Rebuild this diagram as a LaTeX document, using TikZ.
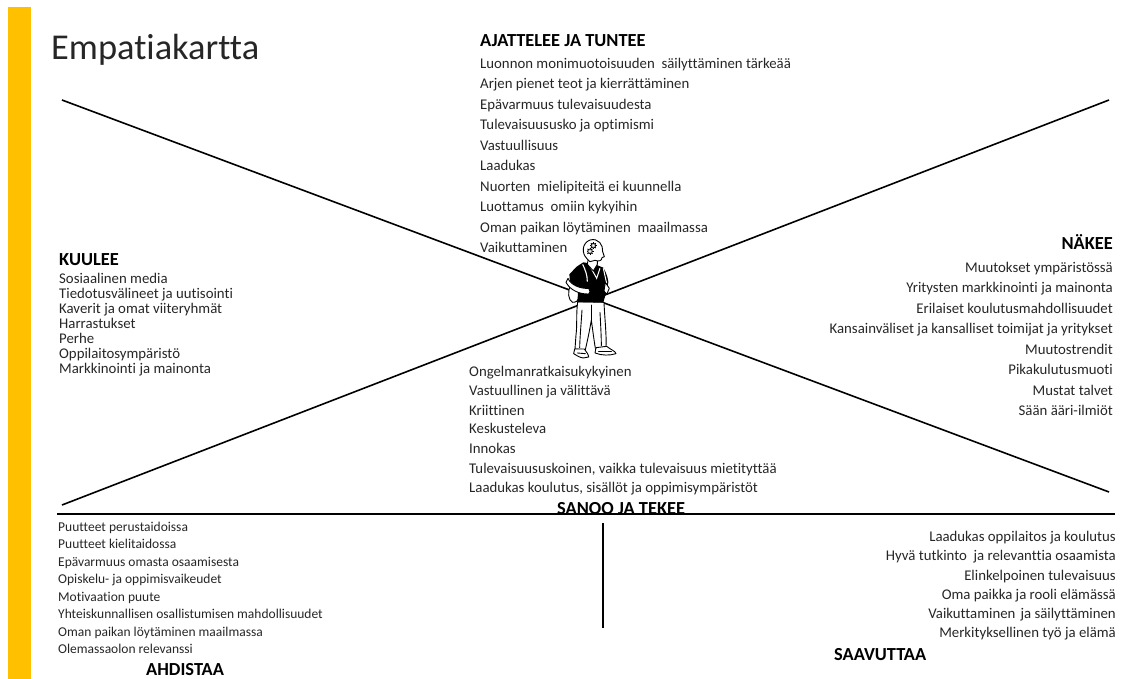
\documentclass[tikz,border=0pt]{standalone}
\usepackage{fontspec}
\setmainfont{Carlito}[Ligatures=NoCommon]
\definecolor{barc}{HTML}{FFC000}
\definecolor{txt}{HTML}{262626}
\tikzset{
  ln/.style={anchor=base west,inner sep=0pt,yshift=-0.7pt,font=\fontsize{14.8}{16}\selectfont,text=txt},
  lnr/.style={anchor=base east,inner sep=0pt,yshift=-0.7pt,font=\fontsize{14.8}{16}\selectfont,text=txt},
  sm/.style={anchor=base west,inner sep=0pt,yshift=-0.5pt,font=\fontsize{13.5}{15}\selectfont,text=txt},
  hd/.style={anchor=base west,inner sep=0pt,yshift=-0.7pt,font=\fontsize{18.4}{20}\selectfont\bfseries,text=black},
  axis/.style={draw=black,line width=1.6pt},
  manline/.style={draw=black,line width=0.9pt,line join=round,line cap=round},
  gearline/.style={draw=black,line width=0.7pt},
}
\newcommand{\gearat}[2]{%
  \foreach \gearang in {0,45,...,315}{\draw[gearline,line width=0.9pt] (#1,#2) ++(\gearang:6) -- ++(\gearang:4.5);}
  \draw[gearline,fill=gray!55] (#1,#2) circle (7);
  \fill[white] (#1,#2) circle (2.5);}
\begin{document}
\begin{tikzpicture}[x=1pt,y=-1pt]
\useasboundingbox (0,0) rectangle (1122,679);
\fill[barc] (8,7) rectangle (31,679);
\node[anchor=base west,inner sep=0pt,font=\fontsize{36.4}{40}\selectfont,text=txt] (title) at (51,60) {Empatiakartta};
% axes
\coordinate (a1) at (62,100); \coordinate (a2) at (1109,492);
\coordinate (b1) at (62,505); \coordinate (b2) at (1109,100);
\coordinate (h1) at (57,514); \coordinate (h2) at (1115,514);
\coordinate (v1) at (603,523); \coordinate (v2) at (603,628);
\draw[axis] (a1) -- (a2);
\draw[axis] (b1) -- (b2);
\draw[axis] (v1) -- (v2);
% top
\node[hd] (t0) at (480,46) {AJATTELEE JA TUNTEE};
\node[ln] (t1) at (480,67.5) {Luonnon monimuotoisuuden\ \ säilyttäminen tärkeää};
\node[ln] (t2) at (480,88) {Arjen pienet teot ja kierrättäminen};
\node[ln] (t3) at (480,108.5) {Epävarmuus tulevaisuudesta};
\node[ln] (t4) at (480,129) {Tulevaisuususko ja optimismi};
\node[ln] (t5) at (480,149.5) {Vastuullisuus};
\node[ln] (t6) at (480,170) {Laadukas};
\node[ln] (t7) at (480,190.5) {Nuorten\ \ mielipiteitä ei kuunnella};
\node[ln] (t8) at (480,211) {Luottamus\ \ omiin kykyihin};
\node[ln] (t9) at (480,231.5) {Oman paikan löytäminen\ \ maailmassa};
\node[ln] (t10) at (480,252) {Vaikuttaminen};
% left
\node[hd] (l0) at (59,265) {KUULEE};
\node[ln] (l1) at (59,282.5) {Sosiaalinen media};
\node[ln] (l2) at (59,297.5) {Tiedotusvälineet ja uutisointi};
\node[ln] (l3) at (59,312.5) {Kaverit ja omat viiteryhmät};
\node[ln] (l4) at (59,327.5) {Harrastukset};
\node[ln] (l5) at (59,342.5) {Perhe};
\node[ln] (l6) at (59,357.5) {Oppilaitosympäristö};
\node[ln] (l7) at (59,372.5) {Markkinointi\hspace{0.25em}ja mainonta};
% right
\node[hd,anchor=base east] (r0) at (1113,249) {NÄKEE};
\node[lnr] (r1) at (1113,271.5) {Muutokset ympäristössä};
\node[lnr] (r2) at (1113,292) {Yritysten markkinointi\hspace{0.25em}ja mainonta};
\node[lnr] (r3) at (1113,312.5) {Erilaiset koulutusmahdollisuudet};
\node[lnr] (r4) at (1113,333) {Kansainväliset ja kansalliset toimijat ja yritykset};
\node[lnr] (r5) at (1113,353.5) {Muutostrendit};
\node[lnr] (r6) at (1113,374) {Pikakulutusmuoti};
\node[lnr] (r7) at (1113,394.5) {Mustat talvet};
\node[lnr] (r8) at (1113,415) {Sään ääri-ilmiöt};
% centre bottom
\node[ln] (c1) at (469,375.5) {Ongelmanratkaisukykyinen};
\node[ln] (c2) at (469,395) {Vastuullinen ja välittävä};
\node[ln] (c3) at (469,414.5) {Kriittinen};
\node[ln] (c4) at (469,433) {Keskusteleva};
\node[ln] (c5) at (469,453) {Innokas};
\node[ln] (c6) at (469,472.5) {Tulevaisuususkoinen, vaikka tulevaisuus mietityttää};
\node[ln] (c7) at (469,492) {Laadukas koulutus, sisällöt ja oppimisympäristöt};
\begin{scope}
\clip (540,495) rectangle (700,514);
\node[hd] (c0) at (557,514) {SANOO JA TEKEE};
\end{scope}
\draw[axis] (h1) -- (h2);
% bottom left
\node[sm] (p1) at (58,531) {Puutteet perustaidoissa};
\node[sm] (p2) at (58,548) {Puutteet kielitaidossa};
\node[sm] (p3) at (58,566) {Epävarmuus omasta osaamisesta};
\node[sm] (p4) at (58,583) {Opiskelu- ja oppimisvaikeudet};
\node[sm] (p5) at (58,601) {Motivaation puute};
\node[sm] (p6) at (58,618) {Yhteiskunnallisen osallistumisen mahdollisuudet};
\node[sm] (p7) at (58,635.5) {Oman paikan löytäminen maailmassa};
\node[sm] (p8) at (58,653) {Olemassaolon relevanssi};
\node[hd] (p0) at (146,675) {AHDISTAA};
% bottom right
\node[lnr] (g1) at (1116,540.5) {Laadukas oppilaitos ja koulutus};
\node[lnr] (g2) at (1116,560) {Hyvä tutkinto\ \ ja relevanttia osaamista};
\node[lnr] (g3) at (1116,579.5) {Elinkelpoinen tulevaisuus};
\node[lnr] (g4) at (1116,598.5) {Oma paikka ja rooli elämässä};
\node[lnr] (g5) at (1116,617.5) {Vaikuttaminen\hspace{0.35em}ja säilyttäminen};
\node[lnr] (g6) at (1116,637) {Merkityksellinen työ ja elämä};
\node[hd] (g0) at (834,660) {SAAVUTTAA};
% figure, drawn in 3x crop coordinates
\begin{scope}[shift={(540,225)},x=0.3333pt,y=-0.3333pt]
% backpack
\draw[manline,fill=white] (92,180) .. controls (82,200) and (84,225) .. (98,232) .. controls (108,232) and (114,228) .. (116,220) -- (118,180) -- cycle;
% trousers
\draw[manline,fill=white] (113,230) .. controls (108,270) and (112,300) .. (108,330) -- (105,372) -- (136,374) .. controls (144,340) and (150,310) .. (154,285) .. controls (158,315) and (162,345) .. (166,370) -- (198,366) .. controls (200,330) and (194,280) .. (192,232) -- cycle;
\draw[manline] (126,255) .. controls (124,290) and (120,330) .. (119,368);
\draw[manline] (180,262) .. controls (182,300) and (184,335) .. (184,362);
\draw[manline] (154,240) -- (154,285);
% shoes
\draw[manline,fill=white] (104,372) -- (101,386) .. controls (110,392) and (120,398) .. (130,399) -- (146,396) .. controls (146,388) and (138,380) .. (133,372) -- cycle;
\draw[manline,fill=white] (168,368) -- (165,384) .. controls (185,392) and (210,392) .. (228,386) .. controls (226,378) and (212,374) .. (200,364) -- cycle;
\draw[manline] (112,384) -- (136,386);
\draw[manline] (176,380) -- (214,380);
% shirt
\fill[black] (130,112) -- (165,118) -- (190,128) .. controls (200,145) and (204,160) .. (205,172) -- (198,205) -- (190,232) -- (112,232) -- (115,190) -- (90,170) -- (88,148) -- (110,125) -- cycle;
% collar and strap
\draw[draw=white,line width=1pt] (147,118) -- (170,160) -- (180,130);
\draw[draw=white,line width=1.1pt] (128,118) .. controls (136,135) and (142,150) .. (142,170);
\draw[draw=white,line width=1pt] (190,130) -- (200,175);
% arm
\draw[manline,fill=white] (84,160) .. controls (92,180) and (122,192) .. (146,190) -- (150,200) -- (146,207) .. controls (118,208) and (90,195) .. (78,172) -- cycle;
\draw[manline,fill=white] (196,172) -- (208,190) -- (200,208) -- (192,198) -- cycle;
% neck and head
\draw[manline,fill=white] (145,100) -- (142,118) -- (160,138) -- (172,118) -- (172,100) -- cycle;
\draw[manline,fill=white] (140,100) .. controls (125,85) and (125,55) .. (150,45) .. controls (175,38) and (190,60) .. (188,80) -- (193,95) -- (186,98) .. controls (186,108) and (175,110) .. (165,106) -- (150,110) -- cycle;
% gears
\gearat{160}{62}
\gearat{150}{79}
\end{scope}
\end{tikzpicture}
\end{document}
